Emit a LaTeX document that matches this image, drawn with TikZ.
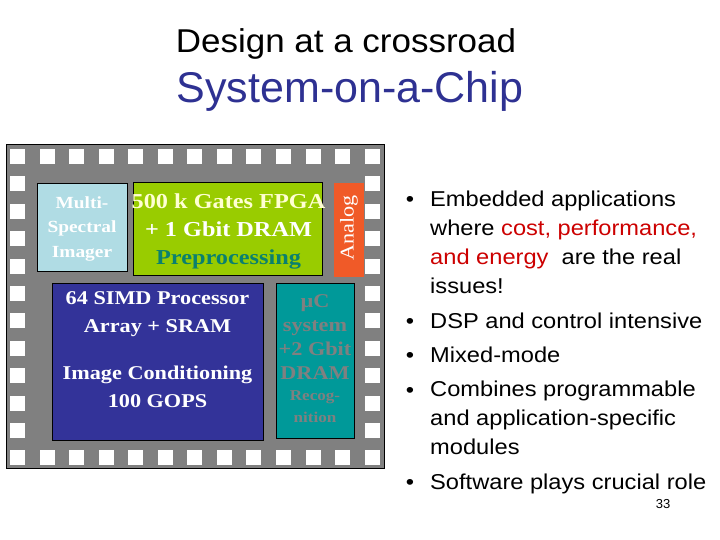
\documentclass[tikz,border=0pt]{standalone}
\usepackage{fontspec}
\setmainfont{Liberation Sans}
\newfontfamily\chipfont[FakeStretch=1.14]{Liberation Serif}
\newfontfamily\widesans[FakeStretch=1.1]{Liberation Sans}
\newfontfamily\titlesans[FakeStretch=1.06]{Liberation Sans}
\definecolor{chipgray}{RGB}{128,128,128}
\definecolor{imagerblue}{RGB}{176,220,228}
\definecolor{fpgagreen}{RGB}{153,204,0}
\definecolor{analogorange}{RGB}{240,90,40}
\definecolor{simdblue}{RGB}{51,51,153}
\definecolor{ucteal}{RGB}{0,153,153}
\definecolor{preteal}{RGB}{10,128,110}
\definecolor{paleyellow}{RGB}{255,255,210}
\definecolor{titleblue}{RGB}{46,49,146}
\definecolor{hired}{RGB}{204,0,0}
\tikzset{
  pad/.style={rectangle, fill=white, draw=none, minimum width=15pt, minimum height=15pt, inner sep=0pt},
  blockbox/.style={rectangle, draw=black, line width=0.7pt, inner sep=0pt, anchor=north west},
  chiptext/.style={anchor=base, align=center, inner sep=0pt, font=\chipfont\bfseries\fontsize{19.5}{27.5}\selectfont},
  bullettext/.style={anchor=base west, align=left, inner sep=0pt, font=\widesans\fontsize{21.5}{28.7}\selectfont},
  bulletdot/.style={anchor=base, inner sep=0pt, font=\widesans\fontsize{21.5}{28.7}\selectfont}
}
\begin{document}
\begin{tikzpicture}[x=1pt, y=-1pt]
\useasboundingbox (0,0) rectangle (720,540);
% titles
\node[anchor=base, inner sep=0pt, font=\titlesans\fontsize{33}{36}\selectfont] (title1) at (346,53) {Design at a crossroad};
\node[anchor=base, inner sep=0pt, text=titleblue, font=\fontsize{43}{46}\selectfont] (title2) at (350,103) {System-on-a-Chip};
% chip
\node[blockbox, fill=chipgray, minimum width=378pt, minimum height=324pt] (chip) at (6,144) {};
\foreach \i in {0,...,12} {
  \node[pad] (padt\i) at ({17.5+29.55*\i},156.5) {};
  \node[pad] (padb\i) at ({17.5+29.55*\i},457.9) {};
}
\foreach \j in {1,...,10} {
  \node[pad] (padl\j) at (17.5,{156.5+27.4*\j}) {};
  \node[pad] (padr\j) at (372.1,{156.5+27.4*\j}) {};
}
% blocks
\node[blockbox, fill=imagerblue, minimum width=90pt, minimum height=88pt] (imager) at (37,183) {};
\node[blockbox, fill=fpgagreen, minimum width=189pt, minimum height=93pt] (fpga) at (133,182) {};
\node[rectangle, fill=analogorange, inner sep=0pt, anchor=north west, minimum width=30pt, minimum height=94pt] (analog) at (334,183) {};
\node[blockbox, fill=simdblue, minimum width=211pt, minimum height=157pt] (simd) at (52,283) {};
\node[blockbox, fill=ucteal, minimum width=78pt, minimum height=155pt] (uc) at (276,283) {};
% block texts (anchor=base puts the LAST line on the given baseline)
\node[chiptext, text=white, font=\chipfont\bfseries\fontsize{17}{24}\selectfont] (imagertext) at (82,257) {Multi-\\Spectral\\Imager};
\node[chiptext, font=\chipfont\bfseries\fontsize{21.3}{27.5}\selectfont] (fpgatext) at (228.5,264) {\textcolor{paleyellow}{500 k Gates FPGA}\\\textcolor{white}{+ 1 Gbit DRAM}\\\textcolor{preteal}{Preprocessing}};
\node[anchor=center, inner sep=0pt, rotate=90, text=white, font=\chipfont\fontsize{19.5}{24}\selectfont] (analogtext) at (349,228) {Analog};
\node[chiptext, text=white] (simdtext1) at (157.5,332) {64 SIMD Processor\\Array + SRAM};
\node[chiptext, text=white] (simdtext2) at (157.5,407) {Image Conditioning\\100 GOPS};
\node[chiptext, text=chipgray, font=\chipfont\bfseries\fontsize{19.5}{23.7}\selectfont] (uctext1) at (315,379) {µC\\system\\+2 Gbit\\DRAM};
\node[chiptext, text=chipgray, font=\chipfont\bfseries\fontsize{15}{22}\selectfont] (uctext2) at (315,422) {Recog-\\nition};
% bullets
\node[bulletdot] (dot1) at (410,207) {•};
\node[bullettext] (item1) at (430,293) {Embedded applications\\where \textcolor{hired}{cost, performance,}\\\textcolor{hired}{and energy}\ \ are the real\\issues!};
\node[bulletdot] (dot2) at (410,328) {•};
\node[bullettext] (item2) at (430,328) {DSP and control intensive};
\node[bulletdot] (dot3) at (410,362) {•};
\node[bullettext] (item3) at (430,362) {Mixed-mode};
\node[bulletdot] (dot4) at (410,397) {•};
\node[bullettext] (item4) at (430,454) {Combines programmable\\and application-specific\\modules};
\node[bulletdot] (dot5) at (410,489) {•};
\node[bullettext] (item5) at (430,489) {Software plays crucial role};
\node[anchor=base, inner sep=0pt, font=\fontsize{13}{15}\selectfont] (pagenum) at (663,508) {33};
\end{tikzpicture}
\end{document}
